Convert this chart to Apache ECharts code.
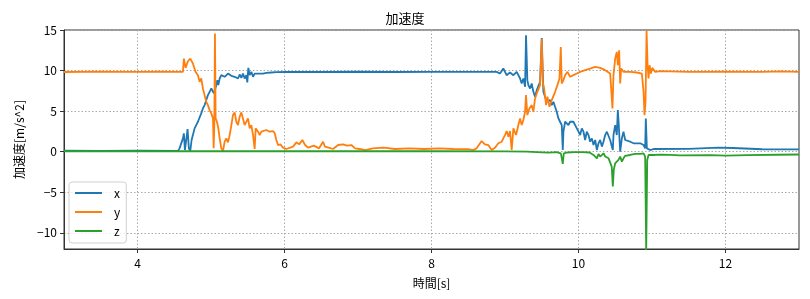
<!DOCTYPE html>
<html>
<head>
<meta charset="utf-8">
<script src="https://cdn.jsdelivr.net/npm/echarts@6/dist/echarts.min.js"></script>
<style>
html,body{margin:0;padding:0;background:#fff;}
#c{width:810px;height:299px;}
</style>
</head>
<body>
<div id="c"></div>
<script>
// ---- data (time in s, acceleration in m/s^2) ----
const seriesNames = ['x', 'y', 'z'];
const xTicks = [4, 6, 8, 10, 12];
const yTicks = [-10, -5, 0, 5, 10, 15];

const xT = [3.0,3.5,4.0,4.55,4.572,4.595,4.618,4.631,4.645,4.663,4.681,4.699,4.718,4.736,4.754,4.777,4.799,4.822,4.845,4.867,4.890,4.913,4.936,4.958,4.981,5.004,5.027,5.040,5.072,5.086,5.100,5.118,5.140,5.163,5.186,5.208,5.231,5.254,5.277,5.299,5.322,5.345,5.367,5.390,5.413,5.435,5.458,5.481,5.494,5.508,5.526,5.549,5.572,5.594,5.617,5.640,5.662,5.708,5.753,5.821,5.889,6.025,6.5,7.0,7.5,8.0,8.5,8.840,8.886,8.932,8.977,9.000,9.022,9.068,9.114,9.159,9.182,9.205,9.227,9.250,9.273,9.286,9.304,9.318,9.341,9.363,9.386,9.409,9.432,9.454,9.477,9.500,9.522,9.545,9.568,9.613,9.636,9.659,9.681,9.704,9.727,9.749,9.772,9.786,9.795,9.818,9.841,9.863,9.886,9.909,9.931,9.954,9.977,10.0,10.022,10.045,10.068,10.09,10.113,10.136,10.158,10.181,10.204,10.227,10.25,10.272,10.295,10.318,10.34,10.363,10.386,10.409,10.431,10.454,10.467,10.476,10.499,10.521,10.535,10.548,10.567,10.59,10.612,10.635,10.658,10.703,10.749,10.84,10.885,10.907,10.916,10.93,10.976,11.021,11.5,11.9,12.1,12.5,13.0];
const xV = [0.12,0.10,0.12,0.08,0.41,0.20,1.64,2.26,0.20,1.44,2.79,0.41,0.08,1.44,1.64,2.87,3.28,3.69,3.90,4.72,5.33,5.74,6.36,6.97,7.38,7.79,7.59,7.18,8.20,8.82,8.20,9.02,9.43,9.51,9.23,9.43,9.63,9.43,9.35,9.51,9.23,9.43,9.02,9.51,9.10,9.63,9.02,9.43,8.53,10.33,9.43,9.84,9.23,9.63,9.43,9.63,9.51,9.63,9.72,9.76,9.80,9.84,9.82,9.85,9.82,9.84,9.83,9.84,9.84,9.63,10.25,9.84,9.43,9.76,9.43,9.84,9.43,9.02,8.40,9.02,8.00,14.35,8.82,8.20,7.79,8.40,7.38,6.77,7.59,7.79,8.61,14.0,7.38,6.77,6.15,6.36,5.74,6.15,5.53,4.92,4.10,3.69,3.28,0.20,2.46,3.69,3.90,3.28,3.69,3.49,3.69,3.28,3.08,2.46,2.05,2.87,2.46,1.44,2.46,2.05,1.23,1.64,0.82,1.44,0.20,1.03,1.44,0.62,1.23,2.05,2.46,2.67,1.44,0.62,0.20,2.05,3.28,2.05,5.12,3.28,0.0,1.64,2.46,1.44,1.23,1.23,1.03,1.03,0.82,0.41,4.10,0.41,0.20,0.33,0.35,0.50,0.45,0.30,0.28];

const yT = [3.0,3.5,4.0,4.3,4.618,4.631,4.654,4.686,4.718,4.754,4.790,4.822,4.845,4.867,4.890,4.913,4.936,4.958,4.981,5.004,5.027,5.036,5.045,5.054,5.063,5.081,5.100,5.118,5.140,5.163,5.186,5.208,5.231,5.254,5.277,5.299,5.322,5.345,5.367,5.390,5.413,5.435,5.458,5.481,5.504,5.526,5.549,5.572,5.594,5.608,5.640,5.662,5.685,5.708,5.753,5.799,5.844,5.867,5.889,5.912,5.944,5.980,6.025,6.116,6.162,6.200,6.243,6.280,6.320,6.400,6.470,6.525,6.550,6.600,6.661,6.730,6.797,6.850,6.910,6.960,7.024,7.1,7.2,7.35,7.5,7.7,7.9,8.1,8.3,8.5,8.569,8.614,8.682,8.727,8.773,8.818,8.864,8.909,8.955,9.000,9.023,9.046,9.068,9.091,9.114,9.150,9.182,9.205,9.227,9.250,9.273,9.286,9.304,9.332,9.364,9.386,9.409,9.432,9.455,9.477,9.500,9.514,9.532,9.559,9.577,9.605,9.636,9.682,9.713,9.741,9.759,9.772,9.795,9.818,9.850,9.886,9.931,9.977,10.022,10.090,10.158,10.227,10.295,10.363,10.431,10.452,10.462,10.476,10.499,10.521,10.535,10.553,10.567,10.580,10.612,10.703,10.794,10.862,10.885,10.898,10.905,10.912,10.926,10.940,10.953,10.967,10.985,11.003,11.044,11.112,11.5,12.0,12.5,12.75,13.0];
const yV = [9.82,9.86,9.83,9.85,9.84,11.48,10.33,11.15,11.48,10.87,9.84,9.43,8.61,9.02,7.79,6.97,6.15,5.74,5.12,4.72,4.10,0.41,3.28,14.56,4.10,3.69,2.87,1.64,0.41,0.08,1.23,1.64,1.15,2.05,3.28,4.51,4.84,3.69,3.28,4.31,4.84,4.10,3.28,3.49,4.10,2.87,3.28,2.05,0.33,2.87,2.46,2.05,2.46,2.26,2.67,2.46,2.54,2.26,1.44,0.82,0.90,0.49,0.33,0.62,1.15,0.90,1.44,0.82,0.49,0.74,0.41,1.23,0.62,0.49,0.33,0.82,0.90,0.74,0.82,0.41,0.33,0.20,0.41,0.49,0.33,0.41,0.33,0.41,0.33,0.30,0.20,0.41,1.31,0.90,0.82,0.20,0.49,1.03,1.23,2.05,2.54,1.85,2.54,0.20,2.87,2.05,3.28,4.10,3.28,3.90,4.92,6.97,4.51,5.33,5.74,4.92,6.56,7.18,7.38,8.20,13.9,8.61,7.79,5.74,6.77,5.53,6.36,7.38,8.20,9.02,12.9,8.40,8.82,9.43,9.84,9.23,9.43,9.63,9.84,10.05,10.25,10.46,10.33,10.05,9.63,9.43,5.33,9.43,11.48,12.30,10.66,12.50,8.40,10.25,9.84,9.84,9.76,9.63,7.38,4.51,4.30,6.15,14.96,10.66,9.02,10.66,9.63,10.33,9.84,9.92,9.84,9.86,9.84,9.90,9.84];

const zT = [3.0,4.0,5.0,6.0,7.0,8.0,9.0,9.3,9.5,9.6,9.7,9.76,9.786,9.80,9.85,9.95,10.05,10.15,10.204,10.227,10.25,10.272,10.295,10.318,10.34,10.363,10.386,10.409,10.43,10.452,10.467,10.48,10.499,10.521,10.544,10.567,10.59,10.612,10.635,10.658,10.703,10.771,10.84,10.885,10.907,10.921,10.935,10.953,10.976,11.021,11.112,11.25,11.384,11.8,12.0,12.3,12.7,13.0];
const zV = [0.05,0.05,0.05,0.05,0.05,0.05,0.03,0.0,-0.08,-0.12,-0.05,-0.2,-1.5,-0.2,-0.1,-0.05,-0.05,-0.1,-0.4,-0.2,-0.82,-0.3,-0.6,-0.4,-0.2,-0.6,-0.4,-0.82,-1.02,-1.84,-4.3,-2.25,-1.43,-1.64,-1.02,-0.61,-1.23,-0.82,-0.51,-0.61,-0.41,-0.28,-0.28,-0.2,-0.61,-12.3,-1.02,-0.41,-0.28,-0.41,-0.37,-0.39,-0.45,-0.42,-0.5,-0.42,-0.38,-0.35];

// ---- chart ----
const FONT = '"Noto Sans CJK JP", "Noto Sans", sans-serif';
const colors = ['#1f77b4', '#ff7f0e', '#2ca02c'];
const pairs = (t, v) => t.map((tt, i) => [tt, v[i]]);
const allData = [pairs(xT, xV), pairs(yT, yV), pairs(zT, zV)];

const chart = echarts.init(document.getElementById('c'), null, {renderer: 'canvas'});
chart.setOption({
  animation: false,
  color: colors,
  textStyle: {fontFamily: FONT, color: '#000'},
  title: {
    text: '加速度', left: 'center', top: 7,
    textStyle: {fontFamily: FONT, fontSize: 13, fontWeight: 'normal', color: '#000'}
  },
  grid: {
    left: 64, right: 11, top: 30, bottom: 50,
    show: true, borderColor: '#333', borderWidth: 1, backgroundColor: 'transparent'
  },
  legend: {
    data: seriesNames,
    orient: 'vertical',
    left: 69, top: 182,
    icon: 'rect',
    itemWidth: 27, itemHeight: 2, itemGap: 5,
    padding: [4, 6, 5, 6],
    backgroundColor: 'rgba(255,255,255,0.8)',
    borderColor: '#d0d0d0', borderWidth: 1, borderRadius: 3,
    textStyle: {fontFamily: FONT, fontSize: 12, color: '#000', lineHeight: 14, padding: [0, 0, 0, 7]}
  },
  xAxis: {
    type: 'value', min: 3, max: 13, splitNumber: 5,
    name: '時間[s]', nameLocation: 'middle', nameGap: 28,
    nameTextStyle: {fontFamily: FONT, fontSize: 12, color: '#000'},
    axisLine: {show: true, onZero: false, lineStyle: {color: '#333', width: 1}},
    axisTick: {show: true, length: 4, lineStyle: {color: '#333'}, customValues: xTicks},
    axisLabel: {fontFamily: FONT, fontSize: 12, color: '#000', margin: 8, customValues: xTicks},
    splitLine: {show: true, lineStyle: {color: '#a8a8a8', type: [1.5, 2], width: 1}}
  },
  yAxis: {
    type: 'value', min: -12, max: 15, splitNumber: 5,
    name: '加速度[m/s^2]', nameLocation: 'middle', nameGap: 39, nameRotate: 90,
    nameTextStyle: {fontFamily: FONT, fontSize: 12, color: '#000'},
    axisLine: {show: true, onZero: false, lineStyle: {color: '#333', width: 1}},
    axisTick: {show: true, length: 4, lineStyle: {color: '#333'}, customValues: yTicks},
    axisLabel: {fontFamily: FONT, fontSize: 12, color: '#000', margin: 7, customValues: yTicks,
      formatter: v => (v < 0 ? '\u2212' + Math.abs(v) : String(v))},
    splitLine: {show: true, lineStyle: {color: '#a8a8a8', type: [1.5, 2], width: 1}}
  },
  series: seriesNames.map((n, i) => ({
    name: n, type: 'line', data: allData[i], showSymbol: false, symbol: 'none',
    lineStyle: {width: 1.8, color: colors[i]}, clip: true, z: 2 + i
  }))
});
</script>
</body>
</html>
